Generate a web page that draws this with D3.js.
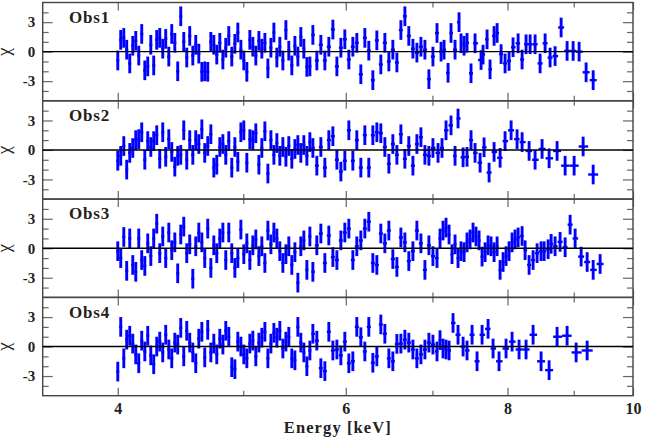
<!DOCTYPE html>
<html><head><meta charset="utf-8">
<script src="https://cdn.jsdelivr.net/npm/d3@7"></script>
<style>body{margin:0;background:#fff}svg{display:block}</style>
</head><body>
<svg id="c" width="646" height="439"></svg>
<script>
// ---- data ----
const gridE = [4.000,4.021,4.043,4.064,4.086,4.108,4.130,4.152,4.174,4.197,
4.219,4.242,4.264,4.287,4.310,4.333,4.356,4.380,4.403,4.427,
4.450,4.474,4.498,4.522,4.546,4.571,4.595,4.620,4.645,4.669,
4.694,4.720,4.745,4.770,4.796,4.822,4.847,4.873,4.899,4.926,
4.952,4.979,5.005,5.032,5.059,5.086,5.113,5.141,5.168,5.196,
5.224,5.252,5.280,5.308,5.336,5.365,5.394,5.422,5.451,5.481,
5.510,5.539,5.569,5.599,5.629,5.659,
5.699,5.740,5.781,5.822,5.864,5.906,5.948,5.990,6.033,6.076,
6.119,6.163,6.207,6.251,6.296,6.341,6.386,6.432,6.478,6.524,
6.571,6.618,6.665,6.712,6.761,6.809,6.858,6.907,6.956,7.006];

const obs1TailE = [7.057,7.108,7.146,7.197,7.235,7.287,7.339,7.365,7.405,7.444,7.497,7.551,7.632,7.659,7.714,7.755,7.811,7.853,7.909,7.965,8.022,8.079,8.152,8.210,8.268,8.328,8.402,8.477,8.553,8.629,8.706,8.800,8.894,8.990,9.086,9.200,9.316];
const obs1Chi = [-0.9,1.2,1.4,0.2,-1.2,0.6,1.1,-0.4,1.8,-1.9,
-1.5,0.7,-1.4,1.2,1.4,0.3,1.3,-0.5,1.8,0.9,
-2.0,3.6,1.0,-0.6,1.6,-0.4,0.7,-0.2,-2.05,-2.0,
-2.05,1.0,0.7,-0.3,0.9,-0.8,0.4,1.6,-0.5,0.8,
1.95,0.2,-0.9,-2.05,1.2,0.5,-0.4,1.1,0.3,0.9,
-1.7,0.4,1.95,-0.6,0.5,-0.9,2.2,0.1,-1.4,0.6,
-0.5,1.5,0.3,-1.55,-1.5,1.7,
-0.9,0.7,-0.9,0.5,2.25,-1.5,0.4,1.26,-0.8,0.5,
0.9,-2.3,1.4,0.1,-2.9,1.15,-1.3,0.9,-1.0,0.2,
-1.1,2.2,3.6,1.6,0.3,-0.1,0.5,0.2,-2.8,-0.5,
1.9,0.0,0.2,-2.15,1.9,0.2,3.0,0.85,0.6,0.9,-2.2,0.85,-0.85,-0.3,1.25,-1.8,1.6,1.9,-0.25,-1.2,-0.95,0.45,0.85,-0.8,0.75,0.75,0.75,-1.2,0.85,-0.6,-0.45,2.46,0.07,0.07,0.0,-2.1,-2.9];

const obs2TailE = [7.070,7.120,7.171,7.235,7.287,7.326,7.392,7.444,7.497,7.551,7.619,7.673,7.742,7.811,7.895,7.965,8.051,8.137,8.210,8.313,8.402,8.507,8.614,8.737,8.863,9.006,9.151,9.316];
const obs2Chi = [-1.1,-0.6,0.4,-2.0,-0.3,0.2,1.0,1.1,1.8,-1.0,
0.9,0.3,0.9,1.5,-0.9,1.8,-0.7,1.1,-0.2,-1.7,
-0.6,-0.5,2.0,-1.0,1.0,-0.5,1.0,0.6,2.1,-0.3,
0.4,1.6,-1.8,-1.5,0.3,0.6,-0.5,0.9,-1.8,0.3,
-1.2,1.8,2.0,-1.3,1.1,1.0,1.7,-1.5,0.2,1.9,
-2.4,1.0,-0.5,0.7,-0.6,0.3,-0.7,0.4,-0.9,0.1,
0.5,-0.3,0.5,-0.6,0.8,0.2,
-1.6,0.3,-1.8,1.0,1.4,-1.0,-2.2,-1.1,2.0,-1.1,
1.0,-1.8,1.5,-1.8,1.5,1.8,1.7,0.3,-1.4,0.6,
-0.5,1.6,-0.9,0.4,-1.6,0.6,1.3,-0.5,-0.6,0.2,
-0.3,0.2,2.0,2.5,-0.6,3.2,-0.75,-0.7,1.0,-0.3,-1.3,0.27,-2.3,-0.2,-0.8,0.9,2.0,1.1,0.8,-0.1,-1.0,0.1,-0.85,-0.1,-1.6,-1.6,0.35,-2.5];

const obs3TailE = [7.057,7.095,7.133,7.171,7.210,7.248,7.287,7.326,7.365,7.405,7.444,7.484,7.524,7.564,7.605,7.646,7.687,7.728,7.769,7.811,7.853,7.895,7.937,7.979,8.022,8.065,8.108,8.152,8.210,8.254,8.313,8.372,8.432,8.492,8.538,8.599,8.645,8.706,8.784,8.863,8.942,9.022,9.119,9.217,9.316,9.432];
const obs3Chi = [-0.3,-1.0,1.15,-2.3,1.0,-1.7,-2.4,1.0,-1.2,-1.8,
0.5,-0.8,1.0,2.5,-0.5,1.2,-1.0,1.6,-0.2,0.6,
-2.55,1.4,2.2,-0.5,0.4,-3.1,0.2,1.6,0.6,-1.0,
2.0,-2.0,0.3,-0.5,1.0,1.6,-1.2,1.6,-0.5,-2.0,
-1.0,1.9,-0.6,0.5,-1.2,0.3,0.9,-0.8,0.2,-1.5,
1.8,0.4,1.6,1.0,-0.3,-1.5,-0.6,0.2,-1.7,-0.4,
-3.5,0.2,0.8,-2.2,1.2,-2.4,
0.3,1.5,-1.5,1.3,-0.9,-1.2,0.8,1.6,2.0,-1.2,
0.2,0.8,2.0,2.7,-1.5,-1.7,1.5,0.5,1.8,-1.1,
-1.9,1.1,0.6,-1.3,-0.3,1.8,0.5,-2.2,0.3,-0.8,
-1.0,1.0,1.8,2.1,1.4,-0.6,0.4,-1.0,-0.3,-0.4,0.6,0.9,1.6,1.2,0.8,-0.85,-0.4,0.3,0.2,-0.4,0.2,-2.2,-1.4,-0.8,-0.3,0.6,0.9,1.1,1.25,-0.2,-1.7,-1.2,-0.5,-0.3,-0.3,-0.1,0.45,0.2,0.65,0.1,2.4,1.0,-0.85,-1.4,-2.2,-1.6];

const obs4TailE = [7.057,7.095,7.133,7.171,7.210,7.261,7.326,7.392,7.444,7.511,7.578,7.646,7.728,7.797,7.880,7.979,8.065,8.166,8.268,8.372,8.492,8.614,8.737,8.894,9.038,9.217];
const obs4Chi = [-2.55,2.0,-1.2,0.7,1.1,0.3,-0.8,-1.7,0.6,-0.5,
1.1,-0.9,-1.8,0.0,0.5,-0.6,1.2,-0.3,-1.2,0.4,
0.2,1.9,-1.0,1.6,0.4,-0.6,-1.7,0.8,1.5,-1.1,
1.7,-0.6,0.3,-0.8,0.8,0.2,1.6,1.0,-2.1,-2.3,
0.5,0.0,-0.8,-1.2,0.3,0.6,-1.0,0.4,0.9,1.5,
-1.2,0.3,1.4,0.9,1.6,-0.2,0.5,1.0,-1.2,-1.4,
2.0,0.4,-0.6,-2.0,-0.4,1.3,
0.6,-2.2,-2.5,1.5,-0.4,-0.3,-0.9,0.5,-1.7,-1.5,
2.0,0.95,-0.5,2.0,-1.65,-1.0,2.25,1.3,-1.2,-1.5,
0.27,0.3,0.7,0.4,-0.3,-1.2,-0.8,-0.3,0.4,0.2,
-0.5,0.65,-0.2,-0.3,-0.4,2.4,1.2,0.0,-0.4,1.2,-1.5,1.2,1.8,-0.2,-1.5,-0.2,0.5,-0.3,-0.3,1.2,-1.5,-2.4,1.0,1.1,-0.6,-0.4];

const panelNames = ["Obs1","Obs2","Obs3","Obs4"];
const xMajorTicks = [4,6,8,10];
const xMinorTicks = [5,7,9];
const xTickLabels = ["4","6","8","10"];
const yMajorTicks = [-3,0,3];
const yMinorTicks = [-4,-2,-1,1,2,4];
const yTickLabels = ["-3","0","3"];
const xLabel = "Energy [keV]";
const yLabel = "\u03c7";

// ---- layout ----
const L = 42.7, R = 633, T0 = 2.5, PH = 98.3;
const FONT = "'Liberation Serif','Times New Roman',serif";
const svg = d3.select("#c");
const x = d3.scaleLog().domain([3.5, 10]).range([L, R]);

const panels = [
  {E: gridE.concat(obs1TailE), chi: obs1Chi},
  {E: gridE.concat(obs2TailE), chi: obs2Chi},
  {E: gridE.concat(obs3TailE), chi: obs3Chi},
  {E: gridE.concat(obs4TailE), chi: obs4Chi}
];

function styleTicks(g, color, w) {
  g.select(".domain").remove();
  g.selectAll(".tick line").attr("stroke", color).attr("stroke-width", w);
}

panels.forEach((p, i) => {
  const top = T0 + i * PH, bot = top + PH;
  const y = d3.scaleLinear().domain([-5, 5]).range([bot, top]);
  const g = svg.append("g");
  const n = Math.min(p.E.length, p.chi.length);
  const pts = [];
  for (let k = 0; k < n; k++) {
    const e = p.E[k];
    let lo = k > 0 ? Math.sqrt(p.E[k-1] * e) : null;
    let hi = k < n - 1 ? Math.sqrt(e * p.E[k+1]) : null;
    if (lo === null) lo = e * e / hi;
    if (hi === null) hi = e * e / lo;
    pts.push({e, lo, hi, c: p.chi[k]});
  }

  // ticks: y (left/right, inward)
  const yl = g.append("g").attr("transform", `translate(${L},0)`)
    .call(d3.axisLeft(y).tickValues(yMajorTicks).tickSize(-10).tickPadding(7.5)
      .tickFormat((d, j) => yTickLabels[j]));
  styleTicks(yl, "#666", 1.2);
  yl.selectAll("text").attr("font-family", FONT).attr("font-size", 15)
    .attr("font-weight", "bold").attr("fill", "#222");
  const ylm = g.append("g").attr("transform", `translate(${L},0)`)
    .call(d3.axisLeft(y).tickValues(yMinorTicks).tickSize(-6).tickFormat(""));
  styleTicks(ylm, "#666", 1.2);
  const yr = g.append("g").attr("transform", `translate(${R},0)`)
    .call(d3.axisRight(y).tickValues(yMajorTicks).tickSize(-10).tickFormat(""));
  styleTicks(yr, "#666", 1.2);
  const yrm = g.append("g").attr("transform", `translate(${R},0)`)
    .call(d3.axisRight(y).tickValues(yMinorTicks).tickSize(-6).tickFormat(""));
  styleTicks(yrm, "#666", 1.2);

  // ticks: x (top/bottom, inward)
  const xt = g.append("g").attr("transform", `translate(0,${top})`)
    .call(d3.axisTop(x).tickValues(xMajorTicks).tickSize(-8).tickFormat(""));
  styleTicks(xt, "#666", 1.2);
  const xtm = g.append("g").attr("transform", `translate(0,${top})`)
    .call(d3.axisTop(x).tickValues(xMinorTicks).tickSize(-5).tickFormat(""));
  styleTicks(xtm, "#666", 1.2);
  const xb = g.append("g").attr("transform", `translate(0,${bot})`)
    .call(d3.axisBottom(x).tickValues(xMajorTicks).tickSize(-8).tickPadding(7)
      .tickFormat((d, j) => i === 3 ? xTickLabels[j] : ""));
  styleTicks(xb, "#666", 1.2);
  xb.selectAll("text").attr("font-family", FONT).attr("font-size", 16)
    .attr("font-weight", "bold").attr("fill", "#222");
  const xbm = g.append("g").attr("transform", `translate(0,${bot})`)
    .call(d3.axisBottom(x).tickValues(xMinorTicks).tickSize(-5).tickFormat(""));
  styleTicks(xbm, "#666", 1.2);

  // frame
  g.append("rect").attr("x", L).attr("y", top).attr("width", R - L).attr("height", PH)
    .attr("fill", "none").attr("stroke", "#444").attr("stroke-width", 1.4);

  // data: error bars
  const dg = g.append("g").attr("stroke", "#0000ff").attr("fill", "none");
  dg.selectAll("line.v").data(pts).join("line").attr("class", "v")
    .attr("stroke-width", 2.9)
    .attr("x1", d => x(d.e)).attr("x2", d => x(d.e))
    .attr("y1", d => y(d.c - 1)).attr("y2", d => y(d.c + 1));
  dg.selectAll("line.h").data(pts).join("line").attr("class", "h")
    .attr("stroke-width", 2.4)
    .attr("x1", d => x(d.lo)).attr("x2", d => x(d.hi))
    .attr("y1", d => y(d.c)).attr("y2", d => y(d.c));

  // zero line
  g.append("line").attr("x1", L).attr("x2", R).attr("y1", y(0)).attr("y2", y(0))
    .attr("stroke", "#000").attr("stroke-width", 1.4);

  // panel label
  g.append("text").attr("x", 69).attr("y", top + 20.3).text(panelNames[i])
    .attr("font-family", FONT).attr("font-size", 17).attr("font-weight", "bold")
    .attr("letter-spacing", 0.8).attr("fill", "#222");

  // y label
  g.append("text").attr("transform", `translate(5,${y(0)}) rotate(90)`)
    .attr("text-anchor", "middle").text(yLabel)
    .attr("font-family", FONT).attr("font-size", 18).attr("fill", "#222");
});

svg.append("text").attr("x", (L + R) / 2).attr("y", 433).attr("text-anchor", "middle")
  .text(xLabel).attr("font-family", FONT).attr("font-size", 16.5)
  .attr("font-weight", "bold").attr("letter-spacing", 1.1).attr("fill", "#222");
</script>
</body></html>
